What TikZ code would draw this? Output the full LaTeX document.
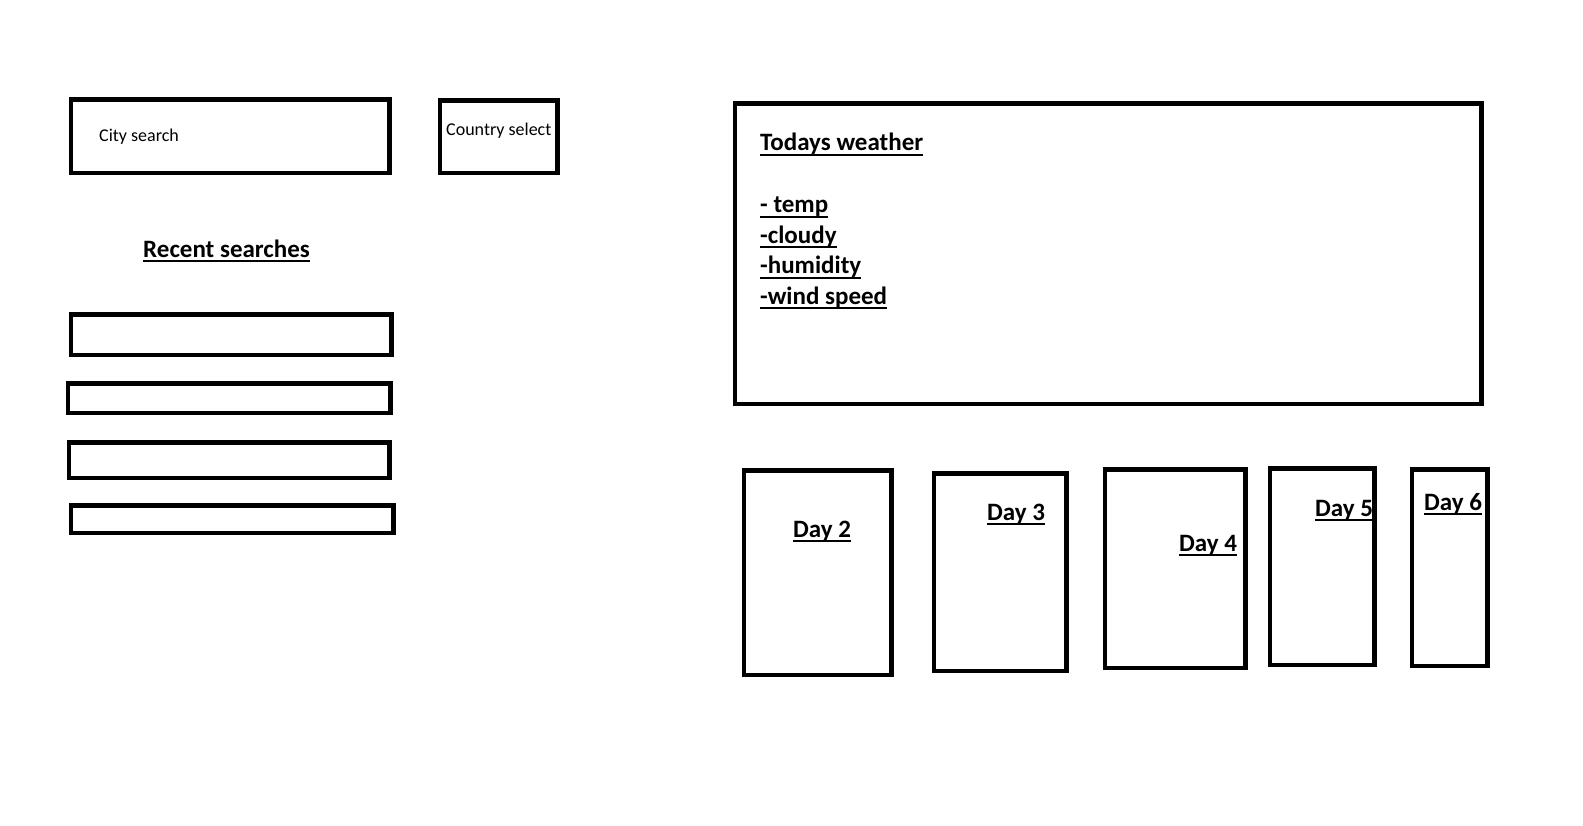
\documentclass[tikz,border=0pt]{standalone}
\usepackage{fontspec}
\setmainfont{Carlito}
\usepackage{tikz}
\usetikzlibrary{positioning}

% underline that sits just under the baseline
\newcommand{\ultext}[1]{\setbox0\hbox{#1}\rlap{\rule[-5pt]{\wd0}{2pt}}\box0}

\tikzset{
  frame/.style={draw,line width=4.5pt,inner sep=0pt,anchor=north west},
  plain/.style={inner sep=0pt,anchor=base west,font=\fontsize{18pt}{22pt}\selectfont},
  heading/.style={inner sep=0pt,anchor=base west,font=\fontsize{25pt}{30pt}\selectfont\bfseries}
}

\begin{document}
\begin{tikzpicture}[x=1pt,y=-1pt]
  \useasboundingbox (0,0) rectangle (1583,826);
  % texts
  \node[plain]   (t_city)    at (99,141.7)  {City search};
  \node[plain]   (t_country) at (446,135.7) {Country select};
  \node[heading] (t_recent)  at (143,257.5) {\ultext{Recent searches}};
  \node[heading] (t_today)   at (760,151)   {\ultext{Todays weather}};
  \node[heading] (t_temp)    at (760,213)   {\ultext{- temp}};
  \node[heading] (t_cloudy)  at (760,243.5) {\ultext{-cloudy}};
  \node[heading] (t_humid)   at (760,274)   {\ultext{-humidity}};
  \node[heading] (t_wind)    at (760,304.5) {\ultext{-wind speed}};
  \node[heading] (t_day2)    at (793,537)   {\ultext{Day 2}};
  \node[heading] (t_day3)    at (987,520)   {\ultext{Day 3}};
  \node[heading] (t_day4)    at (1179,551)  {\ultext{Day 4}};
  \node[heading] (t_day5)    at (1315,516)  {\ultext{Day 5}};
  \node[heading] (t_day6)    at (1424,510)  {\ultext{Day 6}};
  % boxes
  \node[frame,minimum width=318.5,minimum height=73.5]  (city)    at (68.75,97.25)    {};
  \node[frame,minimum width=117.5,minimum height=72.5]  (country) at (437.75,98.25)   {};
  \node[frame,minimum width=320.5,minimum height=40.5]  (rec1)    at (68.75,312.25)   {};
  \node[frame,minimum width=322.5,minimum height=29.5]  (rec2)    at (65.75,381.25)   {};
  \node[frame,minimum width=320.5,minimum height=35.5]  (rec3)    at (66.75,440.25)   {};
  \node[frame,minimum width=322.5,minimum height=27.5]  (rec4)    at (68.75,503.25)   {};
  \node[frame,minimum width=746.5,minimum height=300.5] (today)   at (732.75,101.25)  {};
  \node[frame,minimum width=147.5,minimum height=204.5] (day2)    at (741.75,468.25)  {};
  \node[frame,minimum width=132.5,minimum height=197.5] (day3)    at (931.75,471.25)  {};
  \node[frame,minimum width=140.5,minimum height=198.5] (day4)    at (1102.75,467.25) {};
  \node[frame,minimum width=104.5,minimum height=196.5] (day5)    at (1267.75,466.25) {};
  \node[frame,minimum width=75.5,minimum height=196.5]  (day6)    at (1409.75,467.25) {};
\end{tikzpicture}
\end{document}
